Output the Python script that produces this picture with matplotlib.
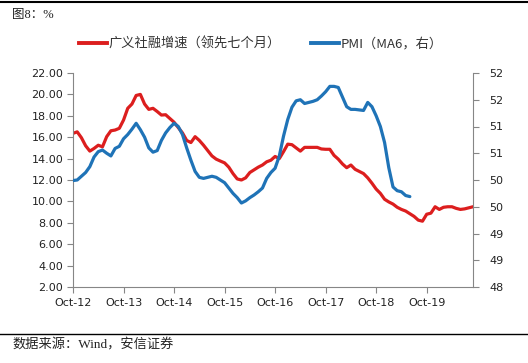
import matplotlib
matplotlib.use("Agg")
import matplotlib.pyplot as plt
from matplotlib.lines import Line2D

plt.rcParams['font.family'] = ['Noto Sans CJK SC', 'DejaVu Sans']

# monthly data, Oct-12 onwards
social_financing = [16.36, 16.5, 15.95, 15.2, 14.7, 14.95, 15.25, 15.1, 16.05, 16.6, 16.67, 16.83,
                    17.6, 18.7, 19.1, 19.9, 20.0, 19.1, 18.6, 18.7, 18.4, 18.07, 18.1, 17.75,
                    17.4, 16.9, 16.4, 15.7, 15.5, 16.05, 15.7, 15.25, 14.75, 14.25, 13.95, 13.77,
                    13.6, 13.2, 12.6, 12.1, 12.0, 12.2, 12.7, 12.95, 13.2, 13.4, 13.7, 13.85,
                    14.2, 14.0, 14.65, 15.35, 15.3, 15.0, 14.7, 15.05, 15.05, 15.05, 15.05, 14.9,
                    14.87, 14.87, 14.3, 13.95, 13.5, 13.15, 13.4, 13.0, 12.8, 12.6, 12.2, 11.7,
                    11.15, 10.75, 10.2, 9.95, 9.75, 9.45, 9.25, 9.1, 8.85, 8.6, 8.25, 8.15,
                    8.8, 8.9, 9.5, 9.25, 9.45, 9.5, 9.5, 9.35, 9.25, 9.3, 9.4, 9.5]
pmi_ma6 = [49.99, 50.0, 50.07, 50.14, 50.25, 50.43, 50.53, 50.56, 50.5, 50.45, 50.59, 50.63,
           50.77, 50.85, 50.95, 51.06, 50.94, 50.8, 50.6, 50.52, 50.55, 50.74, 50.88, 50.98,
           51.06, 51.0, 50.85, 50.6, 50.37, 50.16, 50.05, 50.03, 50.05, 50.07, 50.05, 50.0,
           49.95, 49.85, 49.75, 49.67, 49.57, 49.61, 49.67, 49.72, 49.78, 49.85, 50.03, 50.14,
           50.22, 50.45, 50.82, 51.13, 51.36, 51.48, 51.5, 51.43, 51.45, 51.47, 51.5, 51.57,
           51.65, 51.75, 51.75, 51.73, 51.55, 51.37, 51.32, 51.32, 51.31, 51.3, 51.45, 51.37,
           51.2, 51.0, 50.7, 50.23, 49.87, 49.8, 49.78, 49.71, 49.69]
x_tick_labels = ['Oct-12', 'Oct-13', 'Oct-14', 'Oct-15', 'Oct-16', 'Oct-17', 'Oct-18', 'Oct-19']
left_ticks = [2, 4, 6, 8, 10, 12, 14, 16, 18, 20, 22]
right_ticks = [48, 48.5, 49, 49.5, 50, 50.5, 51, 51.5, 52]
right_tick_labels = ['48', '49', '49', '50', '50', '51', '51', '52', '52']
series_names = ['广义社融增速（领先七个月）', 'PMI（MA6，右）']

RED = '#DC1E1E'
BLUE = '#1F73B7'
GREY = '#868686'
SERIF_CJK = ['Liberation Serif', 'Noto Sans CJK SC']

fig = plt.figure(figsize=(5.28, 3.63), dpi=100)
ax = fig.add_axes([73/528, 1-287/363, 400/528, 214/363])
ax2 = ax.twinx()

ax.plot(range(len(social_financing)), social_financing, color=RED, lw=2.3, solid_capstyle='round')
ax2.plot(range(len(pmi_ma6)), pmi_ma6, color=BLUE, lw=2.3, solid_capstyle='round')

ax.set_xlim(0, 95)
ax.set_ylim(2, 22)
ax2.set_ylim(48, 52)
ax.set_xticks([12*i for i in range(len(x_tick_labels))])
ax.set_xticklabels(x_tick_labels)
ax.set_yticks(left_ticks)
ax.set_yticklabels([f'{v:.2f}' for v in left_ticks])
ax2.set_yticks(right_ticks)
ax2.set_yticklabels(right_tick_labels)

for a in (ax, ax2):
    a.spines['top'].set_visible(False)
    for s in ('left', 'right', 'bottom'):
        a.spines[s].set_color(GREY)
        a.spines[s].set_linewidth(0.8)
    a.tick_params(colors=GREY, labelcolor='#222222', labelsize=8, length=4, width=0.8,
                  direction='out')
    for lab in a.get_xticklabels() + a.get_yticklabels():
        lab.set_family(['DejaVu Sans'])
ax.spines['right'].set_visible(False)
ax2.spines['left'].set_visible(False)
ax2.spines['bottom'].set_visible(False)
ax.tick_params(axis='y', pad=3)
ax2.tick_params(axis='y', pad=8)
ax.tick_params(axis='x', pad=4)

handles = [Line2D([0], [0], color=RED, lw=2.8), Line2D([0], [0], color=BLUE, lw=2.8)]
leg = fig.legend(handles, series_names, loc='center', bbox_to_anchor=(261/528, 1-44/363), ncol=2,
                 frameon=False, fontsize=9.5, handlelength=2.1, handletextpad=0.15,
                 columnspacing=2.3)
for t in leg.get_texts():
    t.set_color('#333333')

fig.text(12/528, 1-15/363, '图8：%', fontsize=9, va='center', ha='left', color='#222222',
         family=SERIF_CJK)
fig.text(12/528, 1-345/363, '数据来源：Wind，安信证券', fontsize=9.5, va='center', ha='left',
         color='#222222', family=SERIF_CJK)
fig.add_artist(Line2D([0, 1], [1-2/363, 1-2/363], color='black', lw=1.5, transform=fig.transFigure))
fig.add_artist(Line2D([0, 1], [1-334/363, 1-334/363], color='black', lw=1.0, transform=fig.transFigure))

fig.savefig('out.png', dpi=100)
